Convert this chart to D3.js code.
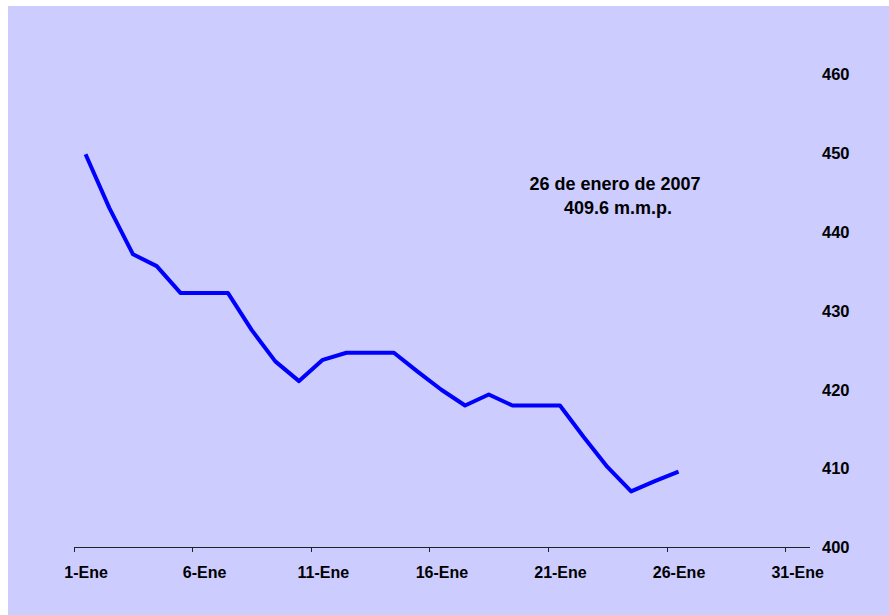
<!DOCTYPE html>
<html>
<head>
<meta charset="utf-8">
<script src="https://cdn.jsdelivr.net/npm/d3@7"></script>
<style>
  body { margin: 0; background: #fff; }
  text { font-family: "Liberation Sans", Arial, sans-serif; font-weight: bold; font-size: 16px; fill: #000; }
</style>
</head>
<body>
<script>
// Chart data (January 2007, daily values)
// =================================
const days = [1, 2, 3, 4, 5, 6, 7, 8, 9, 10, 11, 12, 13, 14, 15, 16, 17, 18, 19, 20, 21, 22, 23, 24, 25, 26];
const values = [449.9, 443.1, 437.2, 435.7, 432.3, 432.3, 432.3, 427.6, 423.6, 421.1, 423.8, 424.7, 424.7, 424.7,
  422.3, 420.0, 418.0, 419.4, 418.0, 418.0, 418.0, 414.0, 410.2, 407.1, 408.4, 409.6];
const xTickDays = [1, 6, 11, 16, 21, 26, 31];
const yTicks = [400, 410, 420, 430, 440, 450, 460];
const noteLines = ['26 de enero de 2007', '409.6 m.m.p.'];

// Set up our chart
// =================================
const svgWidth = 889;
const svgHeight = 615;

const svg = d3.select('body')
  .append('svg')
  .attr('width', svgWidth)
  .attr('height', svgHeight);

// lavender plot area
svg.append('rect')
  .attr('x', 8)
  .attr('y', 6)
  .attr('width', svgWidth - 8)
  .attr('height', svgHeight - 6)
  .attr('fill', '#ccccff');

const dayDate = d => new Date(2007, 0, d);

// Scales
// =================================
const x = d3.scaleTime()
  .domain([dayDate(1), dayDate(32)])
  .range([73.7, 809]);

const y = d3.scaleLinear()
  .domain([400, 460])
  .range([547.3, 74.7]);

const halfDay = (x(dayDate(2)) - x(dayDate(1))) / 2;

// X axis, labels sit in the middle of each day
// =================================
const xAxis = svg.append('g')
  .attr('transform', `translate(0, ${y(400)})`)
  .call(d3.axisBottom(x)
    .tickValues(xTickDays.map(dayDate))
    .tickSize(5)
    .tickSizeOuter(0)
    .tickFormat(d => `${d.getDate()}-Ene`));

xAxis.selectAll('path, line')
  .attr('stroke', '#222')
  .attr('shape-rendering', 'crispEdges');
xAxis.selectAll('text')
  .attr('x', halfDay)
  .attr('y', 31)
  .attr('dy', 0)
  .style('font-size', '16px')
  .style('font-family', '"Liberation Sans", Arial, sans-serif')
  .style('font-weight', 'bold')
  .attr('fill', '#000');

// Y axis on the right, labels only
// =================================
const yAxis = svg.append('g')
  .attr('transform', 'translate(822, 0)')
  .call(d3.axisRight(y)
    .tickValues(yTicks)
    .tickSize(0)
    .tickPadding(0));

yAxis.select('.domain').remove();
yAxis.selectAll('text')
  .attr('text-anchor', 'start')
  .style('font-size', '16.5px')
  .style('font-family', '"Liberation Sans", Arial, sans-serif')
  .style('font-weight', 'bold')
  .attr('fill', '#000');

// The line
// =================================
const line = d3.line()
  .x((d, i) => x(dayDate(d)) + halfDay)
  .y((d, i) => y(values[i]));

svg.append('path')
  .datum(days)
  .attr('d', line)
  .attr('fill', 'none')
  .attr('stroke', '#0000ff')
  .attr('stroke-width', 4)
  .attr('stroke-linejoin', 'round');

// Annotation
// =================================
svg.append('text')
  .attr('x', 615)
  .attr('y', 190)
  .attr('text-anchor', 'middle')
  .style('font-size', '18px')
  .text(noteLines[0]);

svg.append('text')
  .attr('x', 618)
  .attr('y', 213.5)
  .attr('text-anchor', 'middle')
  .style('font-size', '18px')
  .text(noteLines[1]);
</script>
</body>
</html>
